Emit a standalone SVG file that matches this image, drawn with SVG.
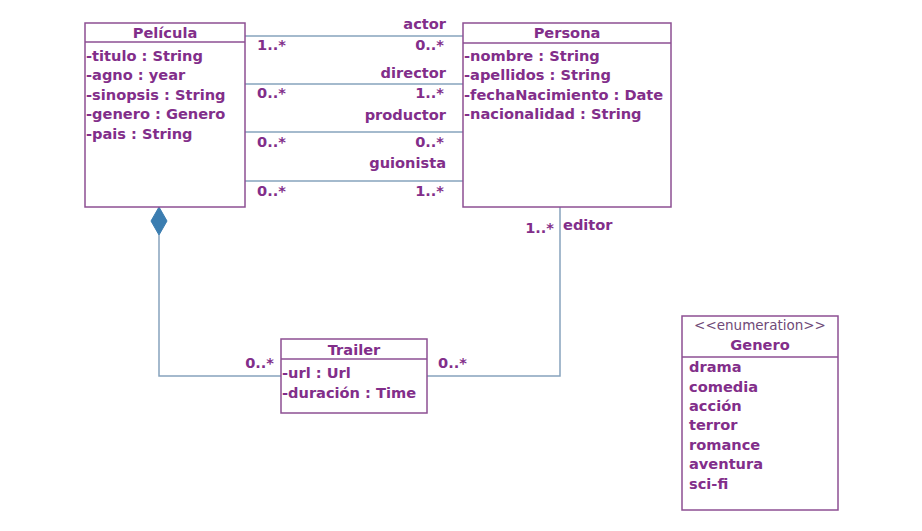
<svg xmlns="http://www.w3.org/2000/svg" width="922" height="531" viewBox="0 0 922 531">
<style>
text{font-family:"DejaVu Sans",Verdana,sans-serif;font-weight:bold;font-size:14.6px;fill:#822e8a}
.c{text-anchor:middle}
.r{text-anchor:end}
.st{font-weight:normal;font-size:13.5px;fill:#6f4a78}
.box{fill:#fff;stroke:#8d4f93;stroke-width:1.5}
.sep{stroke:#8d4f93;stroke-width:1.5}
.con{fill:none;stroke:#86a3bd;stroke-width:1.5}
</style>
<rect width="922" height="531" fill="#fff"/>
<g id="connectors">
<line class="con" x1="245" y1="36" x2="463" y2="36"/>
<line class="con" x1="245" y1="84" x2="463" y2="84"/>
<line class="con" x1="245" y1="132" x2="463" y2="132"/>
<line class="con" x1="245" y1="181" x2="463" y2="181"/>
<polyline class="con" points="159,235 159,376 281,376"/>
<polygon points="159,207 167,221 159,235 151,221" fill="#3b7db0" stroke="#3b7db0"/>
<polyline class="con" points="427,376 560,376 560,207"/>
<text class="r" x="446" y="29">actor</text>
<text x="257" y="50">1..*</text>
<text class="r" x="444" y="50">0..*</text>
<text class="r" x="446" y="78">director</text>
<text x="257" y="98">0..*</text>
<text class="r" x="444" y="98">1..*</text>
<text class="r" x="446" y="120">productor</text>
<text x="257" y="147">0..*</text>
<text class="r" x="444" y="147">0..*</text>
<text class="r" x="446" y="168">guionista</text>
<text x="257" y="196">0..*</text>
<text class="r" x="444" y="196">1..*</text>
<text class="r" x="554" y="233">1..*</text>
<text x="563" y="230">editor</text>
<text class="r" x="274" y="368">0..*</text>
<text x="438" y="368">0..*</text>
</g>
<g id="pelicula">
<rect class="box" x="85" y="23" width="160" height="184"/>
<line class="sep" x1="85" y1="42" x2="245" y2="42"/>
<text class="c" x="165" y="38">Película</text>
<text x="86" y="61">-titulo : String</text>
<text x="86" y="80">-agno : year</text>
<text x="86" y="100">-sinopsis : String</text>
<text x="86" y="119">-genero : Genero</text>
<text x="86" y="139">-pais : String</text>
</g>
<g id="persona">
<rect class="box" x="463" y="23" width="208" height="184"/>
<line class="sep" x1="463" y1="43" x2="671" y2="43"/>
<text class="c" x="567" y="38">Persona</text>
<text x="464" y="61">-nombre : String</text>
<text x="464" y="80">-apellidos : String</text>
<text x="464" y="100">-fechaNacimiento : Date</text>
<text x="464" y="119">-nacionalidad : String</text>
</g>
<g id="trailer">
<rect class="box" x="281" y="339" width="146" height="74"/>
<line class="sep" x1="281" y1="359" x2="427" y2="359"/>
<text class="c" x="354" y="355">Trailer</text>
<text x="282" y="378">-url : Url</text>
<text x="282" y="398">-duración : Time</text>
</g>
<g id="genero">
<rect class="box" x="682" y="316" width="156" height="194"/>
<line class="sep" x1="682" y1="357" x2="838" y2="357"/>
<text class="c st" x="760" y="330">&lt;&lt;enumeration&gt;&gt;</text>
<text class="c" x="760" y="350">Genero</text>
<text x="689" y="372">drama</text>
<text x="689" y="392">comedia</text>
<text x="689" y="411">acción</text>
<text x="689" y="430">terror</text>
<text x="689" y="450">romance</text>
<text x="689" y="469">aventura</text>
<text x="689" y="489">sci-fi</text>
</g>
</svg>
